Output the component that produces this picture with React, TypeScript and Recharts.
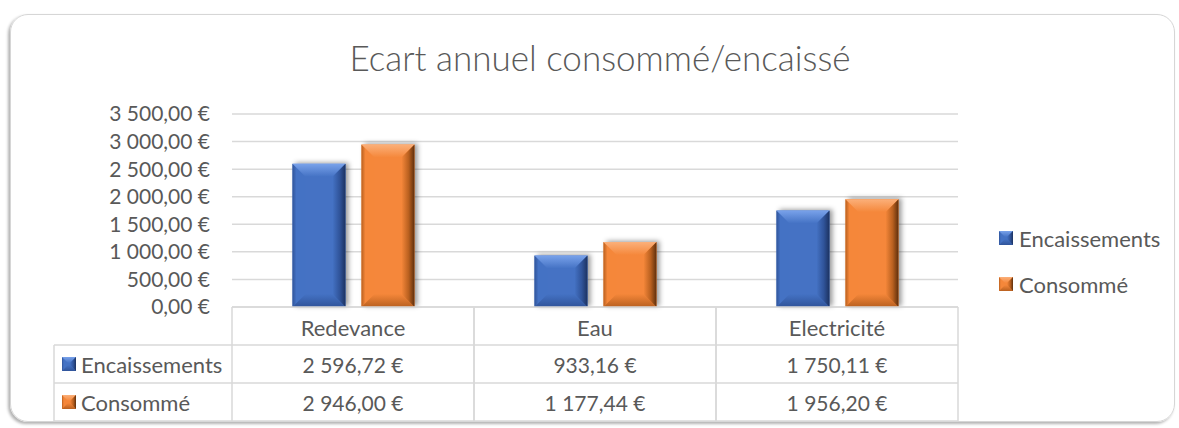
import React from 'react';
import { BarChart, Bar, XAxis, YAxis, CartesianGrid, Legend } from 'recharts';

const categories = ['Redevance', 'Eau', 'Electricité'];
const encaissements = [2596.72, 933.16, 1750.11];
const consomme = [2946.0, 1177.44, 1956.2];
const yTicks = [0, 500, 1000, 1500, 2000, 2500, 3000, 3500];

const series = [
  { key: 'encaissements', name: 'Encaissements', face: '#4472c4', light: '#79a2ea', dark: '#1c3260', mid: '#30549a' },
  { key: 'consomme', name: 'Consommé', face: '#f5873a', light: '#fbb07a', dark: '#5e2f0c', mid: '#b9601f' },
];

const data = categories.map((name, i) => ({
  name,
  encaissements: encaissements[i],
  consomme: consomme[i],
}));

const TEXT = '#595959';
const LINE = '#d9d9d9';
const FONT = 'Lato, "Open Sans", sans-serif';
const NUM_SIZE = 21;
const WORD_SIZE = 22;

// 2596.72 -> "2 596,72 €"
function euro(v: number) {
  const [int, dec] = v.toFixed(2).split('.');
  return `${int.replace(/\B(?=(\d{3})+(?!\d))/g, ' ')},${dec} €`;
}

function Bevel({ x, y, w, h, s, b, id, shadow }: any) {
  if (!h || h <= 0) return null;
  const bb = Math.min(b, h / 2, w / 2);
  return (
    <g>
      <defs>
        <linearGradient id={`${id}-t`} x1="0" y1="0" x2="0" y2="1">
          <stop offset="0" stopColor={s.light} />
          <stop offset="1" stopColor={s.face} />
        </linearGradient>
        <linearGradient id={`${id}-r`} x1="0" y1="0" x2="1" y2="0">
          <stop offset="0" stopColor={s.face} />
          <stop offset="0.55" stopColor={s.mid} />
          <stop offset="1" stopColor={s.dark} />
        </linearGradient>
        <linearGradient id={`${id}-b`} x1="0" y1="0" x2="0" y2="1">
          <stop offset="0" stopColor={s.face} />
          <stop offset="1" stopColor={s.mid} />
        </linearGradient>
        <linearGradient id={`${id}-l`} x1="0" y1="0" x2="1" y2="0">
          <stop offset="0" stopColor={s.mid} />
          <stop offset="0.3" stopColor={s.face} />
        </linearGradient>
        <filter id={`${id}-sh`} x="-20%" y="-10%" width="150%" height="120%">
          <feDropShadow dx="3" dy="-1" stdDeviation="2.5" floodColor="#000" floodOpacity="0.4" />
        </filter>
      </defs>
      <g filter={shadow ? `url(#${id}-sh)` : undefined}>
        <rect x={x} y={y} width={w} height={h} fill={s.face} />
      </g>
      <polygon points={`${x},${y} ${x + bb},${y + bb} ${x + bb},${y + h - bb} ${x},${y + h}`} fill={`url(#${id}-l)`} />
      <polygon points={`${x},${y} ${x + w},${y} ${x + w - bb},${y + bb} ${x + bb},${y + bb}`} fill={`url(#${id}-t)`} />
      <polygon points={`${x},${y + h} ${x + bb},${y + h - bb} ${x + w - bb},${y + h - bb} ${x + w},${y + h}`} fill={`url(#${id}-b)`} />
      <polygon points={`${x + w},${y} ${x + w},${y + h} ${x + w - bb},${y + h - bb} ${x + w - bb},${y + bb}`} fill={`url(#${id}-r)`} />
    </g>
  );
}

function Swatch({ s, id }: any) {
  return (
    <svg width={14} height={14} style={{ display: 'block' }}>
      <Bevel x={0} y={0} w={14} h={14} s={s} b={6} id={id} />
    </svg>
  );
}

const barShape = (s: any) => (props: any) => (
  <Bevel x={props.x} y={props.y} w={props.width} h={props.height} s={s} b={13} id={`${s.key}-${props.index}`} shadow />
);

function TableTick(props: any) {
  const { x, y, payload, index, width } = props;
  const band = width / categories.length;
  const left = x - band / 2;
  const right = x + band / 2;
  const rowH = 38;
  const labelLeft = left - 178;
  const values = [encaissements[index], consomme[index]];
  const base = { fontFamily: FONT, fill: TEXT, dominantBaseline: 'central' as const };
  return (
    <g>
      <line x1={left} x2={left} y1={y} y2={y + 3 * rowH} stroke={LINE} strokeWidth={1.5} />
      <line x1={right} x2={right} y1={y} y2={y + 3 * rowH} stroke={LINE} strokeWidth={1.5} />
      {[1, 2, 3].map((r) => (
        <line key={r} x1={index === 0 ? labelLeft : left} x2={right} y1={y + r * rowH} y2={y + r * rowH} stroke={LINE} strokeWidth={1.5} />
      ))}
      <text x={x} y={y + rowH / 2 + 1} textAnchor="middle" fontSize={WORD_SIZE} {...base}>{payload.value}</text>
      {values.map((v, r) => (
        <text key={r} x={x} y={y + (r + 1.5) * rowH} textAnchor="middle" fontSize={NUM_SIZE} {...base}>{euro(v)}</text>
      ))}
      {index === 0 && (
        <g>
          <line x1={labelLeft} x2={labelLeft} y1={y + rowH} y2={y + 3 * rowH} stroke={LINE} strokeWidth={1.5} />
          {series.map((s, r) => (
            <g key={s.key}>
              <Bevel x={labelLeft + 8} y={y + (r + 1.5) * rowH - 7} w={14} h={14} s={s} b={6} id={`tbl-${s.key}`} />
              <text x={labelLeft + 27} y={y + (r + 1.5) * rowH} textAnchor="start" fontSize={WORD_SIZE} {...base}>{s.name}</text>
            </g>
          ))}
        </g>
      )}
    </g>
  );
}

function LegendContent() {
  return (
    <div style={{ fontFamily: FONT, fontSize: WORD_SIZE, color: TEXT }}>
      {series.map((s) => (
        <div key={s.key} style={{ display: 'flex', alignItems: 'center', height: 24, marginBottom: 22 }}>
          <Swatch s={s} id={`lg-${s.key}`} />
          <span style={{ marginLeft: 6 }}>{s.name}</span>
        </div>
      ))}
    </div>
  );
}

export default function App() {
  return (
    <div style={{ position: 'absolute', left: 0, top: 0, width: 1179, height: 428, background: '#fff' }}>
      <div
        style={{
          position: 'absolute',
          left: 10,
          top: 14,
          width: 1165,
          height: 408,
          boxSizing: 'border-box',
          border: '1.5px solid #d6d6d6',
          borderRadius: 18,
          boxShadow: '-2px 2px 3px rgba(0,0,0,0.3)',
        }}
      />
      <div
        style={{
          position: 'absolute',
          left: 0,
          top: 40,
          width: 1200,
          textAlign: 'center',
          fontFamily: FONT,
          fontWeight: 300,
          fontSize: 35,
          lineHeight: '35px',
          color: TEXT,
        }}
      >
        Ecart annuel consommé/encaissé
      </div>
      <div style={{ position: 'absolute', left: 0, top: 0 }}>
        <BarChart
          width={1179}
          height={428}
          data={data}
          margin={{ top: 114, right: 221, bottom: 7, left: 0 }}
          barCategoryGap="25%"
          barGap={16}
        >
          <CartesianGrid vertical={false} stroke={LINE} strokeWidth={1.5} />
          <XAxis
            dataKey="name"
            height={114}
            interval={0}
            tickSize={0}
            tickMargin={0}
            tickLine={false}
            axisLine={{ stroke: LINE, strokeWidth: 1.5 }}
            tick={<TableTick />}
          />
          <YAxis
            width={232}
            domain={[0, 3500]}
            ticks={yTicks}
            interval={0}
            axisLine={false}
            tickLine={false}
            tickSize={0}
            tickMargin={22}
            tickFormatter={euro}
            tick={{ fontSize: NUM_SIZE, fontFamily: FONT, fill: TEXT }}
          />
          <Legend
            verticalAlign="middle"
            layout="horizontal"
            content={<LegendContent />}
            wrapperStyle={{ left: 999, top: 226, width: 178 }}
          />
          {series.map((s) => (
            <Bar
              key={s.key}
              dataKey={s.key}
              name={s.name}
              fill={s.face}
              shape={barShape(s)}
              isAnimationActive={false}
            />
          ))}
        </BarChart>
      </div>
    </div>
  );
}
